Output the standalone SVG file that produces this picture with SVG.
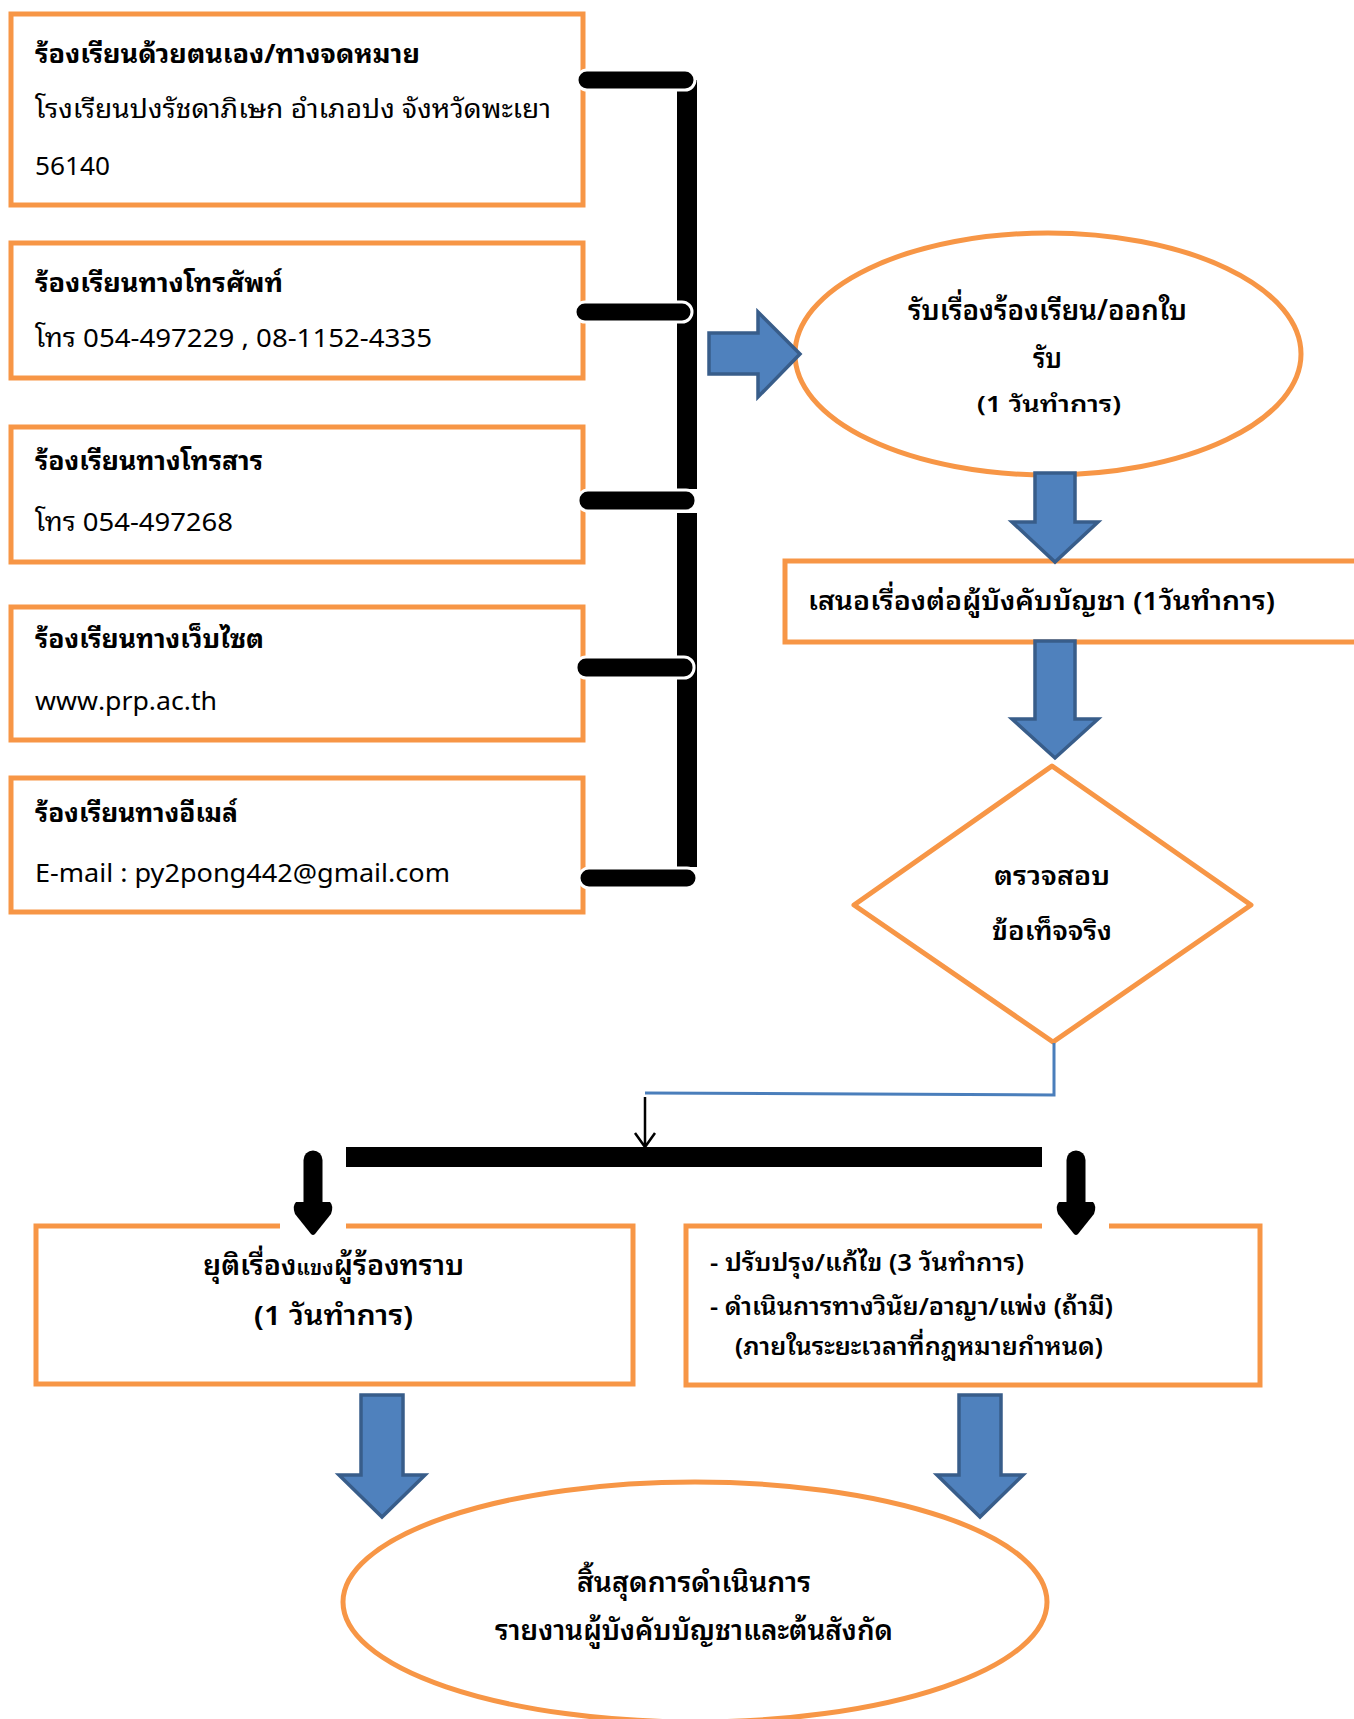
<svg xmlns="http://www.w3.org/2000/svg" width="1354" height="1719" viewBox="0 0 1354 1719">
<defs>
<style>
.box{fill:#fff;stroke:#F79646;stroke-width:5}
.t{font-family:"Noto Sans Thai Looped","Noto Serif Thai Looped","Garuda","Loma","Sarabun","Noto Sans Thai","Noto Sans Thai UI","Noto Sans","DejaVu Sans",sans-serif;fill:#000;font-size:26px}
.b{font-weight:bold}
.m{font-weight:600}
.blue{fill:#4F81BD;stroke:#385D8A;stroke-width:3.5}
.stub{fill:#000;stroke:#fff;stroke-width:3}
</style>
</defs>
<rect width="1354" height="1719" fill="#fff"/>

<g id="n1">
<rect class="box" x="11" y="14" width="572" height="191"/>
<text class="t b" x="35" y="63" textLength="385" lengthAdjust="spacingAndGlyphs">ร้องเรียนด้วยตนเอง/ทางจดหมาย</text>
<text class="t" x="35" y="118" textLength="516" lengthAdjust="spacingAndGlyphs">โรงเรียนปงรัชดาภิเษก อำเภอปง จังหวัดพะเยา</text>
<text class="t" x="35" y="175" textLength="75" lengthAdjust="spacingAndGlyphs">56140</text>
</g>
<g id="n2">
<rect class="box" x="11" y="243" width="572" height="135"/>
<text class="t b" x="35" y="292" textLength="248" lengthAdjust="spacingAndGlyphs">ร้องเรียนทางโทรศัพท์</text>
<text class="t" x="35" y="347" textLength="397" lengthAdjust="spacingAndGlyphs">โทร 054-497229 , 08-1152-4335</text>
</g>
<g id="n3">
<rect class="box" x="11" y="427" width="572" height="135"/>
<text class="t b" x="35" y="470" textLength="228" lengthAdjust="spacingAndGlyphs">ร้องเรียนทางโทรสาร</text>
<text class="t" x="35" y="531" textLength="198" lengthAdjust="spacingAndGlyphs">โทร 054-497268</text>
</g>
<g id="n4">
<rect class="box" x="11" y="607" width="572" height="133"/>
<text class="t b" x="35" y="648" textLength="229" lengthAdjust="spacingAndGlyphs">ร้องเรียนทางเว็บไซต</text>
<text class="t" x="35" y="710" textLength="182" lengthAdjust="spacingAndGlyphs">www.prp.ac.th</text>
</g>
<g id="n5">
<rect class="box" x="11" y="778" width="572" height="134"/>
<text class="t b" x="35" y="822" textLength="203" lengthAdjust="spacingAndGlyphs">ร้องเรียนทางอีเมล์</text>
<text class="t" x="35" y="882" textLength="415" lengthAdjust="spacingAndGlyphs">E-mail : py2pong442@gmail.com</text>
</g>

<g id="n6">
<ellipse cx="1048" cy="354" rx="253" ry="121" fill="#fff" stroke="#F79646" stroke-width="5"/>
<text class="t m" x="908" y="320" style="font-size:28px" textLength="279" lengthAdjust="spacingAndGlyphs">รับเรื่องร้องเรียน/ออกใบ</text>
<text class="t m" x="1033" y="368" style="font-size:28px" textLength="29" lengthAdjust="spacingAndGlyphs">รับ</text>
<text class="t m" x="977" y="412" style="font-size:22px" textLength="144" lengthAdjust="spacingAndGlyphs">(1 วันทำการ)</text>
</g>

<g id="n7">
<rect class="box" x="785" y="561" width="600" height="81"/>
<text class="t m" x="808" y="610" textLength="467" lengthAdjust="spacingAndGlyphs">เสนอเรื่องต่อผู้บังคับบัญชา (1วันทำการ)</text>
</g>

<g id="n8">
<polygon points="1052,766 1251,905 1053,1042 854,905" fill="#fff" stroke="#F79646" stroke-width="5" stroke-linejoin="round"/>
<text class="t m" x="994" y="885" textLength="116" lengthAdjust="spacingAndGlyphs">ตรวจสอบ</text>
<text class="t m" x="992" y="940" textLength="120" lengthAdjust="spacingAndGlyphs">ข้อเท็จจริง</text>
</g>

<g id="n9">
<rect class="box" x="36" y="1226" width="597" height="158"/>
<text class="t m" x="203" y="1275" style="font-size:27px" textLength="261" lengthAdjust="spacingAndGlyphs">ยุติเรื่อง<tspan style="font-size:20px">แขง</tspan>ผู้ร้องทราบ</text>
<text class="t m" x="254" y="1325" style="font-size:27px" textLength="159" lengthAdjust="spacingAndGlyphs">(1 วันทำการ)</text>
</g>

<g id="n10">
<rect class="box" x="686" y="1226" width="574" height="159"/>
<text class="t m" x="710" y="1271" style="font-size:24px" textLength="314" lengthAdjust="spacingAndGlyphs">- ปรับปรุง/แก้ไข (3 วันทำการ)</text>
<text class="t m" x="710" y="1315" style="font-size:24px" textLength="403" lengthAdjust="spacingAndGlyphs">- ดำเนินการทางวินัย/อาญา/แพ่ง (ถ้ามี)</text>
<text class="t m" x="735" y="1355" style="font-size:24px" textLength="368" lengthAdjust="spacingAndGlyphs">(ภายในระยะเวลาที่กฎหมายกำหนด)</text>
</g>

<g id="n11">
<ellipse cx="695" cy="1602" rx="352" ry="120" fill="#fff" stroke="#F79646" stroke-width="5"/>
<text class="t m" x="577" y="1592" style="font-size:27px" textLength="234" lengthAdjust="spacingAndGlyphs">สิ้นสุดการดำเนินการ</text>
<text class="t m" x="495" y="1640" style="font-size:27px" textLength="398" lengthAdjust="spacingAndGlyphs">รายงานผู้บังคับบัญชาและต้นสังกัด</text>
</g>

<g id="connectors">
<rect x="677" y="80" width="20" height="409" fill="#000"/>
<rect x="677" y="513" width="20" height="354" fill="#000"/>
<rect class="stub" x="577" y="70" width="118" height="20" rx="10"/>
<rect class="stub" x="575" y="302" width="117" height="20" rx="10"/>
<rect class="stub" x="578" y="490" width="118" height="21" rx="10"/>
<rect class="stub" x="576" y="657" width="118" height="21" rx="10"/>
<rect class="stub" x="579" y="868" width="118" height="20" rx="10"/>
<polygon class="blue" points="709,333 758,333 758,312 800,354 758,397 758,374 709,374"/>
<polygon class="blue" points="1035,473 1075,473 1075,522 1098,522 1055,562 1012,522 1035,522"/>
<polygon class="blue" points="1035,641 1075,641 1075,719 1098,719 1055,758 1012,719 1035,719"/>
<path d="M1054,1043 L1054,1095 L645,1093" fill="none" stroke="#4A7EBB" stroke-width="3"/>
<path d="M645,1097 L645,1146 M635,1133 L645,1147 L655,1133" fill="none" stroke="#000" stroke-width="2.5"/>
<rect x="346" y="1147" width="696" height="20" fill="#000"/>
<rect x="280" y="1220" width="66" height="12" fill="#fff"/>
<rect x="1042" y="1220" width="67" height="12" fill="#fff"/>
<line x1="313" y1="1160" x2="313" y2="1205" stroke="#000" stroke-width="19" stroke-linecap="round"/>
<path d="M296,1202 L330,1202 Q334,1206 331,1214 L315,1234 Q313,1236 311,1234 L295,1214 Q292,1206 296,1202 Z" fill="#000"/>
<line x1="1076" y1="1160" x2="1076" y2="1205" stroke="#000" stroke-width="19" stroke-linecap="round"/>
<path d="M1059,1202 L1093,1202 Q1097,1206 1094,1214 L1078,1234 Q1076,1236 1074,1234 L1058,1214 Q1055,1206 1059,1202 Z" fill="#000"/>
<polygon class="blue" points="361,1395 403,1395 403,1475 425,1475 382,1517 339,1475 361,1475"/>
<polygon class="blue" points="959,1395 1001,1395 1001,1475 1023,1475 980,1517 937,1475 959,1475"/>
</g>
</svg>
